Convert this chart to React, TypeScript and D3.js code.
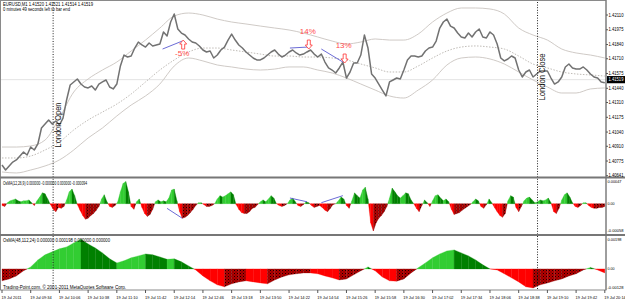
import * as d3 from "d3";

// EURUSD,M1 on 19 Jul 2011, chart starts at 09:02 (bar 0)
const closeStep = 4; // one close every 4 bars
const closes = [
  1.40739, 1.40693, 1.40730, 1.40766, 1.40785, 1.40821, 1.40858, 1.40830, 1.40903, 1.40876,
  1.40931, 1.41077, 1.41114, 1.41150, 1.41114, 1.41141, 1.41104, 1.41168, 1.41333, 1.41470,
  1.41498, 1.41525, 1.41479, 1.41452, 1.41443, 1.41461, 1.41424, 1.41479, 1.41498, 1.41516,
  1.41452, 1.41434, 1.41479, 1.41644, 1.41744, 1.41726, 1.41735, 1.41808, 1.41863, 1.41836,
  1.41817, 1.41854, 1.41827, 1.41836, 1.41845, 1.41955, 1.41918, 1.42046, 1.42119, 1.41982,
  1.41945, 1.41927, 1.41891, 1.41863, 1.41854, 1.41827, 1.41790, 1.41772, 1.41781, 1.41717,
  1.41744, 1.41790, 1.41817, 1.41881, 1.41936, 1.41881, 1.41836, 1.41808, 1.41772, 1.41744,
  1.41717, 1.41699, 1.41699, 1.41717, 1.41744, 1.41772, 1.41790, 1.41753, 1.41726, 1.41744,
  1.41772, 1.41790, 1.41763, 1.41744, 1.41753, 1.41772, 1.41790, 1.41753, 1.41726, 1.41753,
  1.41680, 1.41626, 1.41607, 1.41580, 1.41626, 1.41680, 1.41534, 1.41589, 1.41671, 1.41671,
  1.41744, 1.41927, 1.41808, 1.41571, 1.41534, 1.41479, 1.41424, 1.41370, 1.41498, 1.41516,
  1.41534, 1.41525, 1.41607, 1.41699, 1.41735, 1.41735, 1.41726, 1.41735, 1.41781, 1.41808,
  1.41817, 1.41872, 1.41991, 1.42046, 1.42073, 1.42009, 1.41991, 1.41945, 1.41909, 1.41900,
  1.41945, 1.41909, 1.41955, 1.41982, 1.41909, 1.41900, 1.41955, 1.41927, 1.41845, 1.41717,
  1.41690, 1.41708, 1.41735, 1.41717, 1.41607, 1.41543, 1.41589, 1.41607, 1.41543, 1.41571,
  1.41598, 1.41598, 1.41598, 1.41534, 1.41479, 1.41498, 1.41543, 1.41635, 1.41662, 1.41626,
  1.41616, 1.41616, 1.41635, 1.41607, 1.41571, 1.41543, 1.41534, 1.41498, 1.41490,
];

// envelope bands, one value every 16 bars
const bandStep = 16;
const upperBand = [
  1.40903, 1.40903, 1.40913, 1.40967, 1.41168, 1.41406, 1.41525, 1.41607, 1.41680, 1.41781,
  1.41881, 1.41991, 1.42101, 1.42128, 1.42110, 1.42073, 1.42046, 1.42028, 1.42009, 1.41991,
  1.41973, 1.41945, 1.41909, 1.41872, 1.41845, 1.41863, 1.41891, 1.41881, 1.41881, 1.41936,
  1.42046, 1.42128, 1.42174, 1.42174, 1.42165, 1.42119, 1.41991, 1.41927, 1.41881, 1.41799,
  1.41763, 1.41744, 1.41717,
];
const middleBand = [
  1.40803, 1.40803, 1.40821, 1.40876, 1.40949, 1.41059, 1.41150, 1.41223, 1.41296, 1.41388,
  1.41498, 1.41607, 1.41699, 1.41772, 1.41808, 1.41808, 1.41790, 1.41772, 1.41753, 1.41735,
  1.41735, 1.41726, 1.41726, 1.41717, 1.41699, 1.41662, 1.41626, 1.41589, 1.41589, 1.41644,
  1.41717, 1.41781, 1.41817, 1.41827, 1.41817, 1.41799, 1.41735, 1.41662, 1.41626, 1.41589,
  1.41571, 1.41562, 1.41552,
];
const lowerBand = [
  1.40675, 1.40666, 1.40693, 1.40730, 1.40785, 1.40876, 1.40986, 1.41077, 1.41187, 1.41287,
  1.41370, 1.41479, 1.41644, 1.41717, 1.41690, 1.41653, 1.41635, 1.41616, 1.41607, 1.41616,
  1.41635, 1.41635, 1.41607, 1.41580, 1.41534, 1.41479, 1.41424, 1.41370, 1.41351, 1.41424,
  1.41516, 1.41653, 1.41717, 1.41726, 1.41708, 1.41662, 1.41589, 1.41516, 1.41452, 1.41397,
  1.41397, 1.41434, 1.41443,
];

// OsMA(12,26,9), one value every 3 bars
const fastStep = 3;
const osmaFast = [
  -0.00004, -0.00006, 0.00002, 0.00006, 0.00008, 0.00010, 0.00006, 0.00004, 0.00006, 0.00006,
  0.00008, 0.00002, -0.00004, 0.00006, 0.00014, 0.00023, 0.00021, 0.00010, -0.00002, -0.00012,
  -0.00017, -0.00008, -0.00010, -0.00006, 0.00008, 0.00025, 0.00031, 0.00017, -0.00002, -0.00014,
  -0.00025, -0.00033, -0.00031, -0.00025, -0.00021, -0.00014, -0.00006, 0.00010, 0.00019, 0.00004,
  -0.00006, -0.00008, -0.00004, 0.00004, 0.00025, 0.00043, 0.00047, 0.00025, -0.00006, -0.00012,
  0.00004, 0.00010, -0.00008, -0.00021, -0.00027, -0.00023, -0.00012, 0.00004, 0.00008, 0.00004,
  0.00006, 0.00004, 0.00012, 0.00029, 0.00031, 0.00006, -0.00017, -0.00031, -0.00029, -0.00025,
  -0.00019, -0.00012, -0.00004, 0.00002, 0.00002, -0.00002, -0.00006, -0.00006, -0.00004, 0.00000,
  0.00010, 0.00017, 0.00014, 0.00017, 0.00021, 0.00025, 0.00019, -0.00002, -0.00012, -0.00019,
  -0.00021, -0.00021, -0.00017, -0.00010, -0.00008, -0.00002, 0.00004, 0.00008, 0.00004, 0.00010,
  0.00017, 0.00012, 0.00000, -0.00004, -0.00006, -0.00004, 0.00000, 0.00008, 0.00012, 0.00004,
  -0.00004, -0.00006, -0.00002, 0.00004, 0.00002, -0.00004, -0.00008, -0.00006, -0.00004, -0.00008,
  -0.00014, -0.00017, -0.00010, -0.00002, 0.00000, 0.00006, 0.00014, 0.00010, -0.00004, -0.00010,
  0.00006, 0.00023, 0.00017, 0.00012, 0.00029, 0.00035, 0.00010, -0.00041, -0.00058, -0.00041,
  -0.00031, -0.00025, -0.00017, -0.00006, 0.00012, 0.00033, 0.00025, 0.00017, 0.00012, 0.00017,
  0.00023, 0.00021, 0.00008, 0.00000, -0.00010, -0.00017, -0.00004, 0.00008, 0.00002, -0.00006,
  0.00006, 0.00017, 0.00019, 0.00012, 0.00006, 0.00010, 0.00004, -0.00012, -0.00023, -0.00021,
  -0.00019, -0.00014, -0.00010, -0.00006, -0.00002, 0.00004, 0.00010, 0.00006, -0.00006, -0.00010,
  -0.00002, 0.00010, 0.00002, -0.00008, -0.00017, -0.00025, -0.00029, -0.00021, 0.00006, 0.00017,
  0.00014, -0.00008, -0.00017, -0.00006, 0.00006, 0.00012, 0.00014, 0.00008, 0.00002, 0.00004,
  0.00008, 0.00006, 0.00008, 0.00012, 0.00002, -0.00017, -0.00021, -0.00010, 0.00008, 0.00019,
  0.00023, 0.00014, 0.00002, -0.00006, -0.00008, -0.00004, 0.00002, 0.00002, -0.00004, -0.00008,
  -0.00010, -0.00010, -0.00008, -0.00008, -0.00006,
];

// OsMA(48,112,24), one value every 8 bars
const slowStep = 8;
const osmaSlow = [
  -0.00080, -0.00067, -0.00047, -0.00013, 0.00013, 0.00060, 0.00094, 0.00114, 0.00134, 0.00147,
  0.00174, 0.00198, 0.00167, 0.00140, 0.00107, 0.00067, 0.00040, 0.00054, 0.00074, 0.00087,
  0.00100, 0.00094, 0.00080, 0.00064, 0.00067, 0.00047, 0.00020, -0.00007, -0.00047, -0.00080,
  -0.00107, -0.00120, -0.00100, -0.00087, -0.00080, -0.00087, -0.00094, -0.00100, -0.00074, -0.00054,
  -0.00040, -0.00033, -0.00027, -0.00027, -0.00033, -0.00047, -0.00060, -0.00074, -0.00067, -0.00040,
  -0.00013, 0.00013, -0.00013, -0.00054, -0.00080, -0.00082, -0.00067, -0.00027, 0.00007, 0.00040,
  0.00074, 0.00100, 0.00120, 0.00127, 0.00107, 0.00087, 0.00060, 0.00027, 0.00000, -0.00007,
  -0.00033, -0.00060, -0.00087, -0.00120, -0.00128, -0.00107, -0.00094, -0.00080, -0.00067, -0.00047,
  -0.00033, -0.00007, 0.00010, -0.00007, -0.00027,
];

const priceTicks = [1.42110, 1.41975, 1.41840, 1.41710, 1.41575, 1.41440, 1.41310, 1.41175, 1.41040, 1.40910, 1.40775, 1.40641];
const lastPrice = 1.41519;
const fastTicks = [0.00047, 0, -0.00058];
const slowTicks = [0.00198, 0, -0.00128];
const timeStep = 32;
const timeLabels = [
  "19 Jul 2011", "19 Jul 09:34", "19 Jul 10:06", "19 Jul 10:38", "19 Jul 11:10", "19 Jul 11:42",
  "19 Jul 12:14", "19 Jul 12:46", "19 Jul 13:18", "19 Jul 13:50", "19 Jul 14:22", "19 Jul 14:54",
  "19 Jul 15:26", "19 Jul 15:58", "19 Jul 16:30", "19 Jul 17:02", "19 Jul 17:34", "19 Jul 18:06",
  "19 Jul 18:38", "19 Jul 19:10", "19 Jul 19:42", "19 Jul 20:14",
];
const sessions = [
  { bar: 57, label: "London Open" },
  { bar: 597, label: "London Close" },
];
// [bar1, value1, bar2, value2]
const priceDivergences = [
  [179, 1.41799, 201, 1.41872],
  [321, 1.41808, 341, 1.41817],
  [356, 1.41799, 380, 1.41680],
];
const osmaDivergences = [
  [184, -0.00010, 201, -0.00031],
  [321, 0.00012, 340, 0.00004],
  [356, 0.00002, 380, 0.00017],
];
const signals = [
  { bar: 202, price: 1.41881, dir: "up", text: "-5%" },
  { bar: 342, price: 1.41799, dir: "down", text: "14%" },
  { bar: 382, price: 1.41671, dir: "down", text: "13%" },
];

const LIGHT_GREEN = "#32cd32";
const DARK_GREEN = "#008000";
const RED = "#ff0000";
const FONT = "'Liberation Sans', Arial, sans-serif";

const x = d3.scaleLinear().domain([0, 673]).range([2, 605.7]);
const yPrice = d3.scaleLinear().domain([1.40641, 1.4211]).range([175.7, 15]);
const yFast = d3.scaleLinear().domain([-0.00058, 0.00047]).range([231, 181.5]);
const ySlow = d3.scaleLinear().domain([-0.00128, 0.00198]).range([288, 239.3]);

// histogram as trapezoids, coloured by sign and direction like the MT4 OsMA
function histogram(values: number[], step: number, y: d3.ScaleLinear<number, number>) {
  const z = y(0);
  const out: { d: string; fill: string }[] = [];
  for (let i = 0; i < values.length - 1; i++) {
    const a = values[i], b = values[i + 1];
    const x0 = x(i * step), x1 = x((i + 1) * step);
    const rising = b >= a;
    const col = (v: number) => (v >= 0 ? (rising ? LIGHT_GREEN : DARK_GREEN) : rising ? "url(#darkRed)" : RED);
    if (a * b < 0) {
      const xc = x0 + ((x1 - x0) * a) / (a - b);
      out.push({ d: `M${x0},${z}L${x0},${y(a)}L${xc},${z}Z`, fill: col(a) });
      out.push({ d: `M${xc},${z}L${x1},${y(b)}L${x1},${z}Z`, fill: col(b) });
    } else {
      out.push({ d: `M${x0},${z}L${x0},${y(a)}L${x1},${y(b)}L${x1},${z}Z`, fill: col(a + b) });
    }
  }
  return out;
}

function arrowPath(dir: string) {
  // hollow block arrow, tip at 0,0
  const s = dir === "down" ? -1 : 1;
  return `M0,0L-3.5,${4 * s}L-1.5,${4 * s}L-1.5,${9 * s}L1.5,${9 * s}L1.5,${4 * s}L3.5,${4 * s}Z`;
}

const axisLabel = (t: number) => (t === 0 ? "0.00" : t.toFixed(5));

export default function App() {
  const priceLine = d3.line<number>().x((_, i) => x(i * closeStep)).y((d) => yPrice(d));
  const bandLine = d3.line<number>().x((_, i) => x(i * bandStep)).y((d) => yPrice(d)).curve(d3.curveMonotoneX);
  const fastBars = histogram(osmaFast, fastStep, yFast);
  const slowBars = histogram(osmaSlow, slowStep, ySlow);
  const axisX = 606;

  return (
    <svg width={625} height={301} style={{ position: "absolute", left: 0, top: 0, background: "#fff" }} fontFamily={FONT}>
      <defs>
        <pattern id="darkRed" width="3" height="3" patternUnits="userSpaceOnUse">
          <rect width="3" height="3" fill="#b40000" />
          <rect width="1" height="1" fill="#1a0000" />
          <rect x="1.5" y="1.5" width="1" height="1" fill="#5a0000" />
        </pattern>
        <clipPath id="cPrice"><rect x={1} y={1} width={axisX - 1} height={176} /></clipPath>
        <clipPath id="cFast"><rect x={1} y={178.5} width={axisX - 1} height={55.5} /></clipPath>
        <clipPath id="cSlow"><rect x={1} y={236} width={axisX - 1} height={53.5} /></clipPath>
      </defs>

      {/* price panel */}
      <g clipPath="url(#cPrice)">
        <line x1={1} x2={axisX} y1={yPrice(lastPrice)} y2={yPrice(lastPrice)} stroke="#e4e4e4" />
        <path d={bandLine(upperBand)!} fill="none" stroke="#c9c4bf" strokeWidth={0.9} />
        <path d={bandLine(middleBand)!} fill="none" stroke="#b8b3ae" strokeWidth={0.9} strokeDasharray="1.5,1.5" />
        <path d={bandLine(lowerBand)!} fill="none" stroke="#c9c4bf" strokeWidth={0.9} />
        <path d={priceLine(closes)!} fill="none" stroke="#727272" strokeWidth={1.5} strokeLinejoin="round" />
        {priceDivergences.map((p, i) => (
          <line key={i} x1={x(p[0])} y1={yPrice(p[1])} x2={x(p[2])} y2={yPrice(p[3])} stroke="#5a5ad0" strokeWidth={0.9} />
        ))}
        {signals.map((s, i) => {
          const tx = x(s.bar), ty = yPrice(s.price);
          const labelY = s.dir === "up" ? ty + 13 : ty - 17.5;
          return (
            <g key={i}>
              <path d={arrowPath(s.dir)} transform={`translate(${tx},${ty})`} fill="#fff" stroke="#ff3030" strokeWidth={0.8} />
              <text x={tx - 1} y={labelY} dy="0.35em" textAnchor="middle" fontSize={8} fill="#ff4a4a">{s.text}</text>
            </g>
          );
        })}
        <text x={3} y={6} fontSize={5.5} textLength={90} lengthAdjust="spacingAndGlyphs">EURUSD,M1  1.41520 1.41521 1.41514 1.41519</text>
        <text x={3} y={11} fontSize={5.5} textLength={67} lengthAdjust="spacingAndGlyphs">0 minutes 49 seconds left to bar end</text>
      </g>

      {/* OsMA fast */}
      <g clipPath="url(#cFast)">
        {fastBars.map((b, i) => (
          <path key={i} d={b.d} fill={b.fill} stroke={b.fill.startsWith("url") ? "#900000" : b.fill} strokeWidth={0.3} />
        ))}
        {osmaDivergences.map((p, i) => (
          <line key={i} x1={x(p[0])} y1={yFast(p[1])} x2={x(p[2])} y2={yFast(p[3])} stroke="#5a5ad0" strokeWidth={0.9} />
        ))}
        <text x={3} y={185} fontSize={5.5} textLength={84} lengthAdjust="spacingAndGlyphs">OsMA(12,26,9) 0.000000 -0.000000 0.000000 -0.000094</text>
      </g>

      {/* OsMA slow */}
      <g clipPath="url(#cSlow)">
        {slowBars.map((b, i) => (
          <path key={i} d={b.d} fill={b.fill} stroke={b.fill.startsWith("url") ? "#900000" : b.fill} strokeWidth={0.3} />
        ))}
        <text x={3} y={242} fontSize={5.5} textLength={107} lengthAdjust="spacingAndGlyphs">OsMA(48,112,24) 0.000000 0.000198 0.000000 0.000000</text>
        <text x={3} y={289} fontSize={5.5} textLength={123} lengthAdjust="spacingAndGlyphs">Trading-Point.com, © 2001-2011 MetaQuotes Software Corp.</text>
      </g>

      {/* session lines */}
      {sessions.map((s, i) => (
        <g key={i}>
          <line x1={x(s.bar)} x2={x(s.bar)} y1={2} y2={290} stroke="#222" strokeDasharray="1,1.6" />
          <text
            transform={`translate(${x(s.bar) + 7.5},${i === 0 ? 125 : 77}) rotate(-90)`}
            textAnchor="middle"
            fontSize={8.5}
            textLength={i === 0 ? 45 : 47}
            lengthAdjust="spacingAndGlyphs"
            fill="#111"
          >
            {s.label}
          </text>
        </g>
      ))}

      {/* frame and separators */}
      <rect x={0.5} y={0.5} width={axisX - 0.5} height={289.5} fill="none" stroke="#8a8a8a" />
      <line x1={0} x2={625} y1={177.5} y2={177.5} stroke="#777" strokeWidth={2} />
      <line x1={0} x2={625} y1={235} y2={235} stroke="#777" strokeWidth={2} />
      <line x1={axisX} x2={axisX} y1={0} y2={290} stroke="#777" />

      {/* right axis */}
      {priceTicks.map((t, i) => (
        <g key={i}>
          <line x1={axisX} x2={axisX + 2} y1={yPrice(t)} y2={yPrice(t)} stroke="#555" />
          <text x={608.5} y={yPrice(t)} dy="0.35em" fontSize={4.5} textLength={15} lengthAdjust="spacingAndGlyphs">{t.toFixed(5)}</text>
        </g>
      ))}
      <rect x={607} y={yPrice(lastPrice) - 3.6} width={18} height={7.2} fill="#000" />
      <text x={608.5} y={yPrice(lastPrice)} dy="0.35em" fontSize={4.5} fill="#fff" textLength={15} lengthAdjust="spacingAndGlyphs">{lastPrice.toFixed(5)}</text>
      {fastTicks.map((t, i) => (
        <text key={i} x={607.5} y={yFast(t)} dy="0.35em" fontSize={4.2} textLength={t === 0 ? 7 : t < 0 ? 16 : 14} lengthAdjust="spacingAndGlyphs">{axisLabel(t)}</text>
      ))}
      {slowTicks.map((t, i) => (
        <text key={i} x={607.5} y={ySlow(t)} dy="0.35em" fontSize={4.2} textLength={t === 0 ? 7 : t < 0 ? 16 : 14} lengthAdjust="spacingAndGlyphs">{axisLabel(t)}</text>
      ))}

      {/* time axis */}
      {timeLabels.map((t, i) => (
        <g key={i}>
          <line x1={x(i * timeStep)} x2={x(i * timeStep)} y1={290} y2={293} stroke="#555" />
          <text x={x(i * timeStep) - 0.5} y={298.5} fontSize={4} textLength={i === 0 ? 20 : 21.5} lengthAdjust="spacingAndGlyphs">{t}</text>
        </g>
      ))}
    </svg>
  );
}
